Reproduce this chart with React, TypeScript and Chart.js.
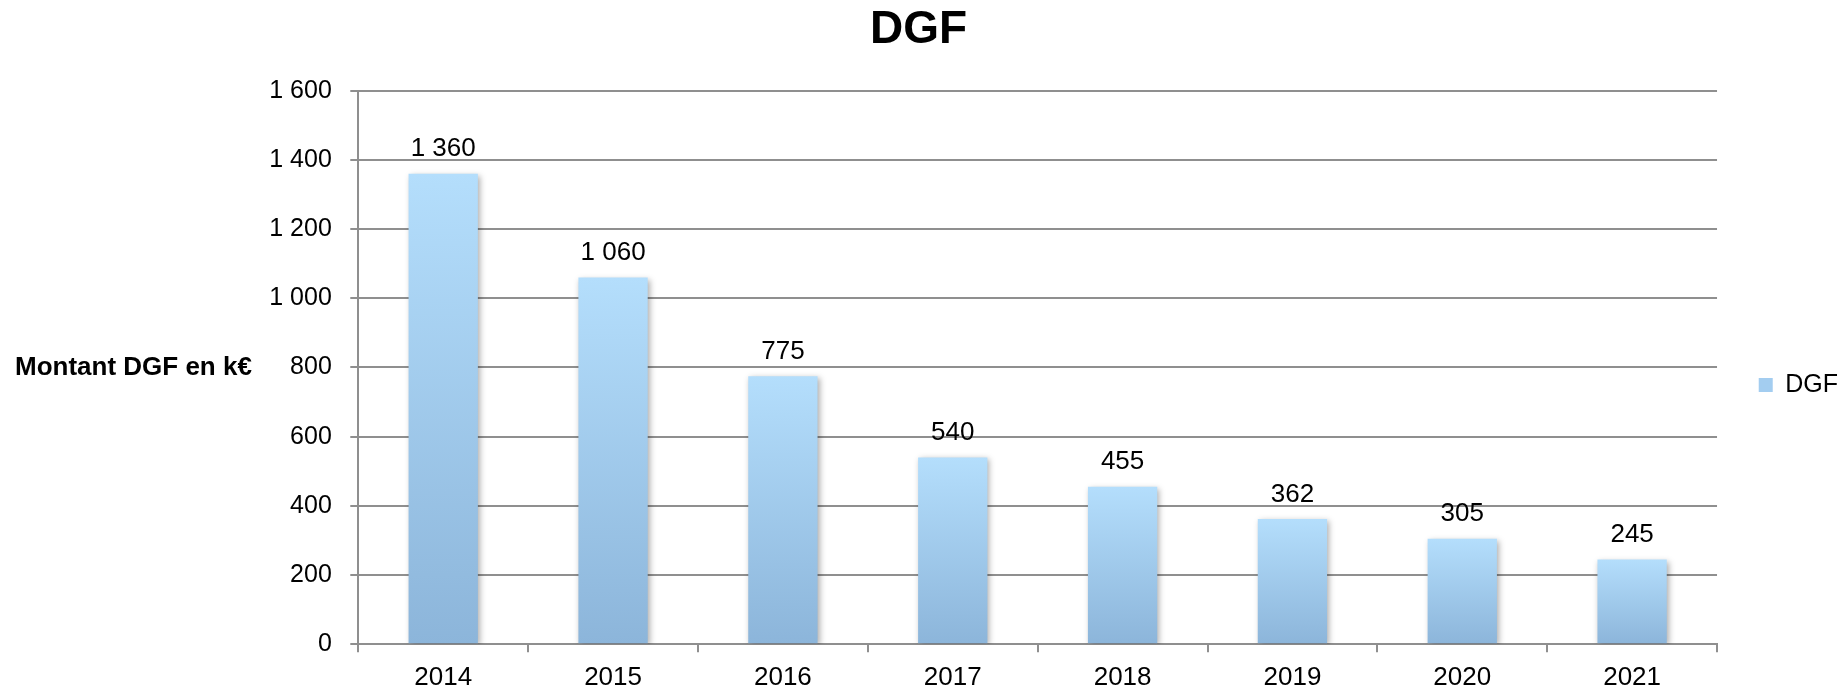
import React, { useEffect, useRef } from "react";
import { Chart, registerables } from "chart.js";

Chart.register(...registerables);

const chartTitle = "DGF";
const yAxisTitle = "Montant DGF en k€";
const seriesLabel = "DGF";
const years = ["2014", "2015", "2016", "2017", "2018", "2019", "2020", "2021"];
const dgfValues = [1360, 1060, 775, 540, 455, 362, 305, 245];
const yMin = 0;
const yMax = 1600;
const yStep = 200;

const FONT = "'Liberation Sans', Arial, Helvetica, sans-serif";
const GRID = "#8f8f8f";

const fmt = (v: number) => String(v).replace(/\B(?=(\d{3})+(?!\d))/g, " ");

const shadowAndLabels = {
  id: "shadowAndLabels",
  beforeDatasetsDraw(chart: any) {
    const ctx = chart.ctx;
    ctx.save();
    ctx.shadowColor = "rgba(0,0,0,0.32)";
    ctx.shadowBlur = 6;
    ctx.shadowOffsetX = 2;
    ctx.shadowOffsetY = 2;
  },
  afterDatasetsDraw(chart: any) {
    const ctx = chart.ctx;
    ctx.restore();
    ctx.save();
    ctx.font = `26px ${FONT}`;
    ctx.fillStyle = "#000";
    ctx.textAlign = "center";
    ctx.textBaseline = "alphabetic";
    const meta = chart.getDatasetMeta(0);
    meta.data.forEach((bar: any, i: number) => {
      ctx.fillText(fmt(dgfValues[i]), bar.x, bar.y - 17.5);
    });
    ctx.restore();
  },
  afterDraw(chart: any) {
    const ctx = chart.ctx;
    const area = chart.chartArea;
    ctx.save();
    ctx.font = `bold 26px ${FONT}`;
    ctx.fillStyle = "#000";
    ctx.textAlign = "left";
    ctx.textBaseline = "middle";
    ctx.fillText(yAxisTitle, 15, (area.top + area.bottom) / 2);
    ctx.restore();
  },
};

export default function App() {
  const canvasRef = useRef<HTMLCanvasElement | null>(null);

  useEffect(() => {
    const canvas = canvasRef.current;
    if (!canvas) return;
    const chart = new Chart(canvas, {
      type: "bar",
      data: {
        labels: years,
        datasets: [
          {
            label: seriesLabel,
            data: dgfValues,
            backgroundColor: (c: any) => {
              const ch = c.chart;
              if (!ch.chartArea || !ch.scales || !ch.scales.y || c.type !== "data") return "#a3cdf0";
              const ys = ch.scales.y;
              const top = ys.getPixelForValue(c.parsed ? c.parsed.y : dgfValues[c.dataIndex]);
              const bottom = ys.getPixelForValue(0);
              if (!isFinite(top) || !isFinite(bottom) || top === bottom) return "#a3cdf0";
              const g = ch.ctx.createLinearGradient(0, top, 0, bottom);
              g.addColorStop(0, "#b4defc");
              g.addColorStop(1, "#8cb5da");
              return g;
            },
            borderWidth: 0,
            categoryPercentage: 1,
            barPercentage: 0.408,
          },
        ],
      },
      options: {
        responsive: false,
        animation: false,
        events: [],
        font: { family: FONT },
        layout: { padding: { left: -11, right: 0, top: 0, bottom: 0 } },
        plugins: {
          title: {
            display: true,
            text: chartTitle,
            color: "#000",
            font: { family: FONT, size: 46, weight: "bold", lineHeight: 1.2 },
            padding: { top: 3, bottom: 32.5 },
          },
          legend: {
            display: true,
            position: "right",
            align: "center",
            fullSize: false,
            title: {
              display: true,
              text: " ",
              font: { family: FONT, size: 11, lineHeight: 1 },
              padding: 12,
            },
            labels: {
              boxWidth: 14,
              boxHeight: 14,
              padding: 41.7,
              color: "#000",
              font: { family: FONT, size: 25 },
              generateLabels: (ch: any) => {
                const items = (Chart as any).defaults.plugins.legend.labels.generateLabels(ch);
                items.forEach((it: any) => {
                  it.fillStyle = "#a3cdf0";
                  it.strokeStyle = "rgba(0,0,0,0)";
                  it.lineWidth = 0;
                });
                return items;
              },
            },
          },
          tooltip: { enabled: false },
        },
        scales: {
          x: {
            type: "category",
            offset: true,
            grid: {
              display: true,
              offset: true,
              drawOnChartArea: false,
              drawTicks: true,
              tickLength: 8,
              color: GRID,
              lineWidth: 2,
            },
            border: { display: true, color: GRID, width: 2 },
            ticks: {
              color: "#000",
              font: { family: FONT, size: 26 },
              padding: 10,
              maxRotation: 0,
              autoSkip: false,
            },
            afterFit: (scale: any) => {
              scale.height = 43.7;
            },
          },
          y: {
            min: yMin,
            max: yMax,
            grid: {
              display: true,
              drawOnChartArea: true,
              drawTicks: true,
              tickLength: 8,
              color: GRID,
              lineWidth: 2,
            },
            border: { display: true, color: GRID, width: 2 },
            ticks: {
              stepSize: yStep,
              color: "#000",
              font: { family: FONT, size: 25 },
              padding: 18.5,
              callback: (v: any) => fmt(Number(v)),
            },
            afterFit: (scale: any) => {
              scale.width = 369.3;
            },
          },
        },
      },
      plugins: [shadowAndLabels],
    } as any);
    return () => chart.destroy();
  }, []);

  return (
    <div style={{ position: "absolute", left: 0, top: 0, width: 1848, height: 688, background: "#fff" }}>
      <canvas ref={canvasRef} width={1848} height={688} style={{ display: "block" }} />
    </div>
  );
}
